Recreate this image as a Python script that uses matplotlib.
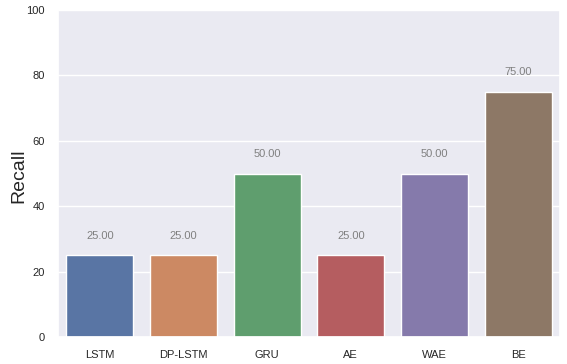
import matplotlib
matplotlib.use("Agg")
import matplotlib.pyplot as plt
import seaborn as sns

models = ["LSTM", "DP-LSTM", "GRU", "AE", "WAE", "BE"]
recall = [25.0, 25.0, 50.0, 25.0, 50.0, 75.0]

sns.set_theme(style="darkgrid")
plt.rcParams["font.family"] = ["Liberation Sans", "DejaVu Sans"]
fig = plt.figure(figsize=(5.67, 3.64), dpi=100)
ax = fig.add_axes([58/567, 27/364, 502/567, 327/364])
sns.barplot(x=models, y=recall, hue=models, palette="deep", legend=False, ax=ax)
ax.set_ylim(0, 100)
ax.set_ylabel("Recall", fontsize=14)
ax.yaxis.set_label_coords(-0.062, 0.494)
ax.tick_params(axis="both", labelsize=8)
for i, v in enumerate(recall):
    ax.text(i, v + 6, f"{v:.2f}", ha="center", va="center", color="gray", fontsize=8)
fig.savefig("out.png", dpi=100)
